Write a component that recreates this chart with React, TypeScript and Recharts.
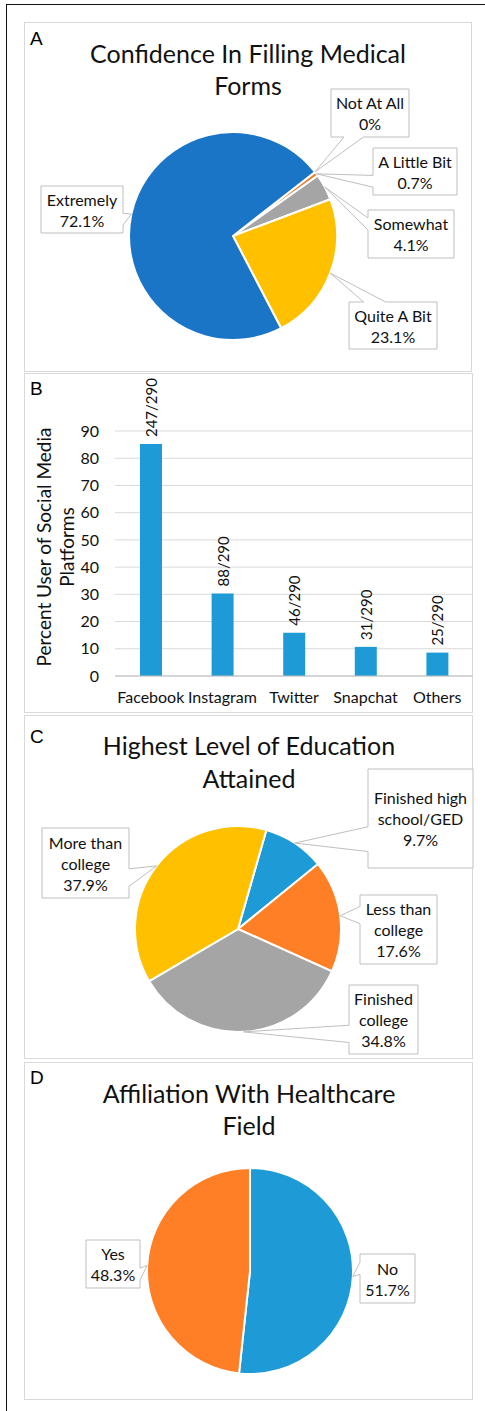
import { PieChart, Pie, Cell, BarChart, Bar, XAxis, YAxis, CartesianGrid, LabelList } from 'recharts';

const FONT = 'Lato, "Open Sans", sans-serif';
const TEXT = '#111';

// A - confidence in filling medical forms
const confidenceNames = ['Not At All', 'A Little Bit', 'Somewhat', 'Quite A Bit', 'Extremely'];
const confidenceValues = [0, 0.7, 4.1, 23.1, 72.1];
const confidenceColors = ['#4472C4', '#ED7D31', '#A5A5A5', '#FFC000', '#1B75C7'];

// B - social media platforms
const platforms = ['Facebook', 'Instagram', 'Twitter', 'Snapchat', 'Others'];
const platformPercent = [85.2, 30.3, 15.9, 10.7, 8.6];
const platformCounts = ['247/290', '88/290', '46/290', '31/290', '25/290'];
const percentTicks = [0, 10, 20, 30, 40, 50, 60, 70, 80, 90];

// C - education
const educationNames = ['Finished high\nschool/GED', 'Less than\ncollege', 'Finished\ncollege', 'More than\ncollege'];
const educationValues = [9.7, 17.6, 34.8, 37.9];
const educationColors = ['#1E9BD7', '#FF7F27', '#A5A5A5', '#FFC000'];

// D - healthcare affiliation
const affiliationNames = ['No', 'Yes'];
const affiliationValues = [51.7, 48.3];
const affiliationColors = ['#1E9BD7', '#FF7F27'];

// callout boxes, page coords [left, top, width, height]
const boxesA = [[331, 89, 78, 48], [373, 148, 84, 47], [368, 210, 86, 48], [349, 302, 88, 47], [41, 186, 82, 47]];
const boxesC = [[368, 769, 105, 99], [360, 895, 77, 69], [349, 985, 69, 69], [42, 828, 87, 70]];
const boxesD = [[360, 1254, 55, 49], [86, 1240, 54, 48]];

const panels = { A: 22, B: 373, C: 715, D: 1062 };

const toRows = (names: string[], values: number[]) => names.map((name, i) => ({ name, value: values[i] }));
const barRows = platforms.map((name, i) => ({ name, value: platformPercent[i], count: platformCounts[i] }));

// excel style wedge callout
function calloutPath(l: number, t: number, w: number, h: number, tx: number, ty: number) {
  const r = l + w, b = t + h;
  const dxPos = tx - (l + w / 2), dyPos = ty - (t + h / 2);
  const horiz = Math.abs(dxPos * h) > Math.abs(dyPos * w);
  let top = '', right = '', bottom = '', left = '';
  if (horiz) {
    const y1 = t + (h * (dyPos > 0 ? 7 : 2)) / 12, y2 = t + (h * (dyPos > 0 ? 10 : 5)) / 12;
    if (dxPos > 0) right = `L${r},${y1} L${tx},${ty} L${r},${y2} `;
    else left = `L${l},${y2} L${tx},${ty} L${l},${y1} `;
  } else {
    const x1 = l + (w * (dxPos > 0 ? 7 : 2)) / 12, x2 = l + (w * (dxPos > 0 ? 10 : 5)) / 12;
    if (dyPos < 0) top = `L${x1},${t} L${tx},${ty} L${x2},${t} `;
    else bottom = `L${x2},${b} L${tx},${ty} L${x1},${b} `;
  }
  return `M${l},${t} ${top}L${r},${t} ${right}L${r},${b} ${bottom}L${l},${b} ${left}Z`;
}

function makeCallout(names: string[], values: number[], boxes: number[][], offsetY: number) {
  return (props: any) => {
    const { cx, cy, midAngle, outerRadius, index } = props;
    const rad = Math.PI / 180;
    const tx = cx + outerRadius * Math.cos(-midAngle * rad);
    const ty = cy + outerRadius * Math.sin(-midAngle * rad);
    const [l, pt, w, h] = boxes[index];
    const t = pt - offsetY;
    const lines = [...names[index].split('\n'), `${values[index]}%`];
    const mid = t + h / 2;
    return (
      <g>
        <path d={calloutPath(l, t, w, h, tx, ty)} fill="#fff" stroke="#BFBFBF" strokeWidth={1} />
        {lines.map((s, i) => (
          <text key={i} x={l + w / 2} y={mid + (i - (lines.length - 1) / 2) * 21} textAnchor="middle"
            dominantBaseline="central" fontFamily={FONT} fontSize={16} fill={TEXT}>{s}</text>
        ))}
      </g>
    );
  };
}

function PiePanel({ top, height, rows, colors, names, values, boxes, cx, cy, r, start }: any) {
  return (
    <div style={{ position: 'absolute', left: 0, top, width: 485, height }}>
      <PieChart width={485} height={height} margin={{ top: 0, right: 0, bottom: 0, left: 0 }}>
        <Pie data={rows} dataKey="value" nameKey="name" cx={cx} cy={cy - top} outerRadius={r}
          startAngle={start} endAngle={start - 360} stroke="#fff" strokeWidth={2}
          isAnimationActive={false} labelLine={false} label={makeCallout(names, values, boxes, top)}>
          {rows.map((_: any, i: number) => <Cell key={i} fill={colors[i]} />)}
        </Pie>
      </PieChart>
    </div>
  );
}

const BarLabel = (props: any) => {
  const { x, y, width, value } = props;
  const px = x + width / 2, py = y - 7;
  return (
    <text x={px} y={py} transform={`rotate(-90, ${px}, ${py})`} textAnchor="start" dominantBaseline="central"
      fontFamily={FONT} fontSize={15} fill={TEXT}>{value}</text>
  );
};

const box = (top: number, height: number, width = 448): React.CSSProperties => ({
  position: 'absolute', left: 24, top, width, height, border: '1px solid #D9D9D9', boxSizing: 'border-box', background: '#fff'
});

export default function App() {
  return (
    <div style={{ position: 'absolute', left: 0, top: 0, width: 485, height: 1411, background: '#fff', overflow: 'hidden' }}>
      <div style={{ position: 'absolute', left: 6, top: 4, width: 600, height: 1500, borderLeft: '1.5px solid #111', borderTop: '1.5px solid #111' }} />
      <div style={box(panels.A, 350)} />
      <div style={box(panels.B, 340, 449)} />
      <div style={box(panels.C, 344, 449)} />
      <div style={box(panels.D, 338, 449)} />

      <PiePanel top={panels.A} height={350} rows={toRows(confidenceNames, confidenceValues)} colors={confidenceColors}
        names={confidenceNames} values={confidenceValues} boxes={boxesA} cx={233} cy={236} r={104} start={38} />

      <div style={{ position: 'absolute', left: 0, top: panels.B, width: 485, height: 339 }}>
        <BarChart width={485} height={339} data={barRows} margin={{ top: 58, right: 12, bottom: 0, left: 0 }}>
          <CartesianGrid vertical={false} stroke="#D9D9D9" />
          <XAxis dataKey="name" height={36} tickLine={false} tickSize={0} tickMargin={16} stroke="#BFBFBF"
            tick={{ fontFamily: FONT, fontSize: 16, fill: TEXT }} interval={0} />
          <YAxis domain={[0, 90]} ticks={percentTicks} width={115} axisLine={false} tickLine={false} tickSize={0}
            tickMargin={16} tick={{ fontFamily: FONT, fontSize: 16, fill: TEXT }} />
          <Bar dataKey="value" fill="#1E9BD7" barSize={22} isAnimationActive={false}>
            <LabelList dataKey="count" content={BarLabel} />
          </Bar>
        </BarChart>
      </div>

      <PiePanel top={panels.C} height={344} rows={toRows(educationNames, educationValues)} colors={educationColors}
        names={educationNames} values={educationValues} boxes={boxesC} cx={238} cy={929} r={103} start={74} />

      <PiePanel top={panels.D} height={338} rows={toRows(affiliationNames, affiliationValues)} colors={affiliationColors}
        names={affiliationNames} values={affiliationValues} boxes={boxesD} cx={250} cy={1271} r={103} start={90} />

      <svg width={485} height={1411} style={{ position: 'absolute', left: 0, top: 0, pointerEvents: 'none' }}>
        <g fontFamily='"Liberation Sans", Arial, sans-serif' fontSize={19} fill="#000">
          <text x={30} y={45}>A</text>
          <text x={30} y={395}>B</text>
          <text x={30} y={743}>C</text>
          <text x={30} y={1084}>D</text>
        </g>
        <g fontFamily={FONT} fontSize={25} fill="#111" textAnchor="middle">
          <text x={248} y={63}>Confidence In Filling Medical</text>
          <text x={248} y={95}>Forms</text>
          <text x={249} y={755}>Highest Level of Education</text>
          <text x={249} y={788}>Attained</text>
          <text x={249} y={1103}>Affiliation With Healthcare</text>
          <text x={249} y={1135}>Field</text>
        </g>
        <g fontFamily={FONT} fontSize={19} fill={TEXT} textAnchor="middle" dominantBaseline="central">
          <text x={43} y={547} transform="rotate(-90, 43, 547)">Percent User of  Social Media</text>
          <text x={66} y={547} transform="rotate(-90, 66, 547)">Platforms</text>
        </g>
      </svg>
    </div>
  );
}
